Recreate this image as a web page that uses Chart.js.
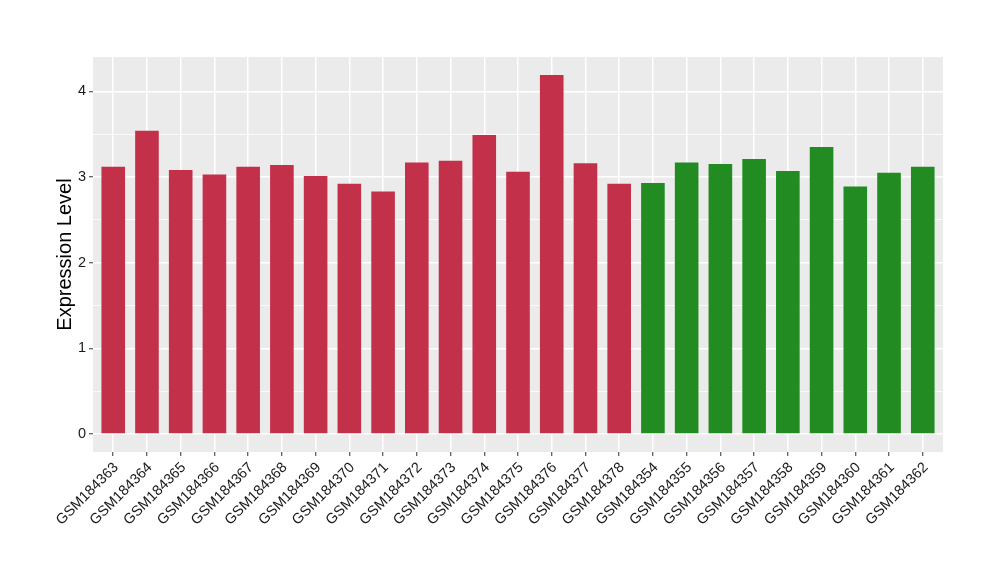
<!DOCTYPE html>
<html>
<head>
<meta charset="utf-8">
<script src="https://cdn.jsdelivr.net/npm/chart.js@4/dist/chart.umd.min.js"></script>
<style>
  html, body { margin: 0; padding: 0; background: #fff; }
  #wrap { width: 1000px; height: 580px; }
</style>
</head>
<body>
<div id="wrap"><canvas id="chart" width="1000" height="580"></canvas></div>
<script>
// samples, in plot order
const samples = [
  "GSM184363", "GSM184364", "GSM184365", "GSM184366", "GSM184367",
  "GSM184368", "GSM184369", "GSM184370", "GSM184371", "GSM184372",
  "GSM184373", "GSM184374", "GSM184375", "GSM184376", "GSM184377",
  "GSM184378", "GSM184354", "GSM184355", "GSM184356", "GSM184357",
  "GSM184358", "GSM184359", "GSM184360", "GSM184361", "GSM184362"
];

// expression level
const expression = [
  3.12, 3.54, 3.08, 3.03, 3.12,
  3.14, 3.01, 2.92, 2.83, 3.17,
  3.19, 3.49, 3.06, 4.19, 3.16,
  2.92, 2.93, 3.17, 3.15, 3.21,
  3.07, 3.35, 2.89, 3.05, 3.12
];

// group of each sample (0 = red group, 1 = green group)
const group = [
  0, 0, 0, 0, 0, 0, 0, 0, 0, 0, 0, 0, 0, 0, 0, 0,
  1, 1, 1, 1, 1, 1, 1, 1, 1
];

const yTicks = [0, 0.5, 1, 1.5, 2, 2.5, 3, 3.5, 4];

const groupColors = ["#C3304A", "#228B22"];
const textColor = "#1A1A1A";

// grey panel behind the plot (ggplot style)
const panelBg = {
  id: 'panelBg',
  beforeDraw(chart) {
    const a = chart.chartArea;
    const ctx = chart.ctx;
    ctx.save();
    ctx.fillStyle = '#EBEBEB';
    ctx.fillRect(a.left, a.top, a.right - a.left, a.bottom - a.top);
    ctx.restore();
  }
};

const isMajor = (v) => Math.abs(v - Math.round(v)) < 1e-6;

new Chart(document.getElementById('chart'), {
  type: 'bar',
  data: {
    datasets: [{
      data: expression.map((v, i) => ({ x: i, y: v })),
      backgroundColor: group.map(g => groupColors[g]),
      borderWidth: 0,
      barPercentage: 0.7,
      categoryPercentage: 1.0
    }]
  },
  options: {
    responsive: false,
    animation: false,
    layout: { padding: { left: 40, right: 57, top: 57, bottom: 0 } },
    plugins: {
      legend: { display: false },
      tooltip: { enabled: false }
    },
    scales: {
      x: {
        type: 'linear',
        offset: false,
        min: -0.6,
        max: samples.length - 0.4,
        afterBuildTicks(scale) {
          scale.ticks = samples.map((_, i) => ({ value: i }));
        },
        afterFit(scale) { scale.height = 128; },
        border: { display: false },
        grid: {
          offset: false,
          color: '#FFFFFF',
          lineWidth: 1.5,
          drawTicks: true,
          tickLength: 4,
          tickColor: '#333333',
          tickWidth: 1
        },
        ticks: {
          autoSkip: false,
          maxRotation: 45,
          minRotation: 45,
          padding: 3,
          labelOffset: 3,
          color: textColor,
          font: { family: 'Liberation Sans, Arial, sans-serif', size: 14.5 },
          callback: (v) => samples[Math.round(v)]
        }
      },
      y: {
        min: -0.21,
        max: 4.40,
        afterBuildTicks(scale) {
          scale.ticks = yTicks.map(v => ({ value: v }));
        },
        afterFit(scale) { scale.width = 53; },
        border: { display: false },
        grid: {
          color: '#FFFFFF',
          lineWidth: (c) => isMajor(c.tick.value) ? 1.5 : 0.75,
          drawTicks: true,
          tickLength: 4,
          tickColor: (c) => isMajor(c.tick.value) ? '#333333' : 'rgba(0,0,0,0)',
          tickWidth: 1
        },
        ticks: {
          padding: 3,
          color: textColor,
          font: { family: 'Liberation Sans, Arial, sans-serif', size: 14.5 },
          callback: (v) => isMajor(v) ? String(Math.round(v)) : ''
        },
        title: {
          display: true,
          text: 'Expression Level',
          color: '#000000',
          padding: { top: 13, bottom: 0 },
          font: { family: 'Liberation Sans, Arial, sans-serif', size: 20, weight: 'normal' }
        }
      }
    }
  },
  plugins: [panelBg]
});
</script>
</body>
</html>
